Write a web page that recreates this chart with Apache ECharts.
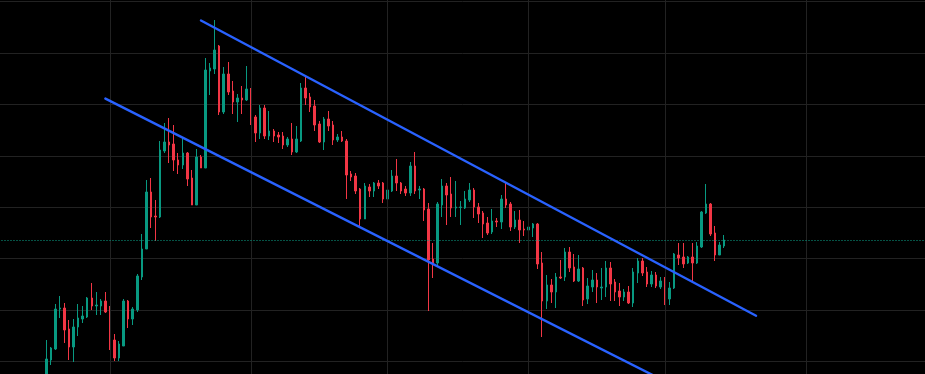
<!DOCTYPE html>
<html><head><meta charset="utf-8">
<script src="https://cdn.jsdelivr.net/npm/echarts@6/dist/echarts.min.js"></script>
<style>html,body{margin:0;padding:0;background:#000;}#c{width:925px;height:374px;}</style>
</head><body><div id="c"></div>
<script>
const opens = [28,53,64,104,105,84,66,86,94,96,
115,107,107,112,102,73,55,67,112,94,
103,136,164,221,197,196,262,271,269,253,
248,260,235,208,256,245,342,344,367,301,
339,322,311,315,313,324,296,280,305,277,
282,278,277,268,274,261,272,325,316,307,
289,271,294,288,273,276,272,239,237,224,
194,226,222,230,230,214,222,237,230,224,
220,247,223,224,204,154,150,208,227,219,
205,205.5,205,213,223,206,200,190,181,192,
191,214,209,186,193,184,183,185,189,150,
112,128,121,136,136,161,146,132,145,114,
126,133,125,126,145,131,122,116,121,110,
140,152,141,129,138,126,132,114,125,158,
156,150,156,150,166,200,209,180,158,167];
const closes = [54,65,104,105,83,66,86,95,97,115,
107,108,112,101,72,55,69,112,94,104,
137,164,221,196,196,263,271,268,253,248,
260,234,208,256,245,343,345,363,301,339,
321,311,315,313,324,295,280,305,277,282,
277,276,268,274,261,274,325,315,306,288,
271,294,287,273,276,272,238,236,222,194,
227,222,230,227,214,223,237,230,222,220,
247,222,224,203,153,150,209,227,218,205,
206,206,214,223,206,199,189,180,192,191,
214,208,186,193,183,183,186,189,149,112,
128,121,136,135,161,145,132,144,113,127,
133,126,126,145,129,121,116,121,110,141,
152,140,129,138,127,132,119,125,159,155,
149,156,150,167,201,209,179,158,168,173];
const highs = [73,66,109,117,110,93,94,109,107,116,
130,121,114,121,107,79,72,114,113,106,
139,179,233,235,213,272,290,295,288,260,
275,261,243,264,258,355,350,393,368,346,
351,332,319,327,347,325,298,308,308,302,
284,281,281,276,290,287,330,337,320,313,
292,296,302,292,279,282,274,242,240,225,
230,229,231,233,231,235,243,254,231,227,
251,261,227,225,210,170,211,234,230,236,
232,212,222,230,225,210,202,196,204,195,
218,231,211,202,203,192,190,190,190,161,
138,134,140,153,165,166,159,158,146,135,
143,140,145,152,151,134,130,124,127,145,
155,155,146,142,141,136,136,131,160,170,
170,157,170,171,202,229,210,187,171,178];
const lows = [21,48,63,95,70,53,51,77,90,95,
103,98,98,100,63,52,52,67,85,88,
101,133,164,185,172,195,260,250,242,239,
244,227,208,208,245,245,318,339,298,299,
318,299,291,299,312,288,271,274,274,273,
271,270,264,266,258,260,271,308,301,282,
270,263,282,268,271,271,214,232,219,185,
194,216,216,224,210,208,221,222,219,217,
217,219,214,192,102,135,147,196,188,196,
196,188,204,211,195,190,175,178,179,186,
184,205,182,184,170,177,181,176,144,76,
104,110,105,134,132,141,131,131,107,109,
121,110,113,116,112,112,107,112,109,106,
130,137,126,126,125,124,108,108,124,148,
145,149,131,149,165,199,177,152,158,165];
const lastPrice = 172.5;
const upperTrend = [[44, 392.5], [166, 97.2]];
const lowerTrend = [[23, 314.4], [146, 31.7]];
const timeGridBars = [14, 45, 75, 106, 136, 167];

const LEAD = 10, TOTAL = 204;
const categories = Array.from({length: TOTAL}, (_, i) => 'B' + (i - LEAD));
const candles = [];
for (let i = 0; i < LEAD; i++) candles.push('-');
for (let i = 0; i < opens.length; i++) candles.push([opens[i], closes[i], lows[i], highs[i]]);

const chart = echarts.init(document.getElementById('c'), null, {renderer: 'canvas'});
chart.setOption({
  backgroundColor: '#000000',
  animation: false,
  grid: {left: -1.5, top: 0, width: TOTAL * 4.55, height: 413, containLabel: false, outerBoundsMode: 'none'},
  xAxis: {
    type: 'category', data: categories, boundaryGap: true,
    axisLine: {show: false}, axisTick: {show: false}, axisLabel: {show: false}, splitLine: {show: false}
  },
  yAxis: {
    type: 'value', min: 0, max: 413, interval: 51.45, scale: false,
    axisLine: {show: false}, axisTick: {show: false}, axisLabel: {show: false},
    splitLine: {show: true, showMaxLine: false, lineStyle: {color: '#222222', width: 1}}
  },
  series: [
    {
      type: 'line', data: [], z: 1, silent: true,
      markLine: {
        silent: true, symbol: 'none', animation: false, label: {show: false},
        lineStyle: {color: '#222222', width: 1, type: 'solid'},
        data: timeGridBars.map(b => ({xAxis: b + LEAD}))
      }
    },
    {
      type: 'line', data: [], z: 2, silent: true,
      markLine: {
        silent: true, symbol: 'none', animation: false, label: {show: false},
        lineStyle: {color: '#0aa58a', width: 1, type: [1, 2]},
        data: [{yAxis: lastPrice}]
      }
    },
    {
      type: 'candlestick', data: candles, z: 3, barWidth: 2,
      itemStyle: {color: '#089981', color0: '#f23645', borderColor: '#089981', borderColor0: '#f23645', borderWidth: 1}
    },
    {
      type: 'line', data: upperTrend, z: 5, symbol: 'none', silent: true,
      lineStyle: {color: '#2962ff', width: 2.4, cap: 'round'}
    },
    {
      type: 'line', data: lowerTrend, z: 5, symbol: 'none', silent: true,
      lineStyle: {color: '#2962ff', width: 2.4, cap: 'round'}
    }
  ]
});
</script></body></html>
